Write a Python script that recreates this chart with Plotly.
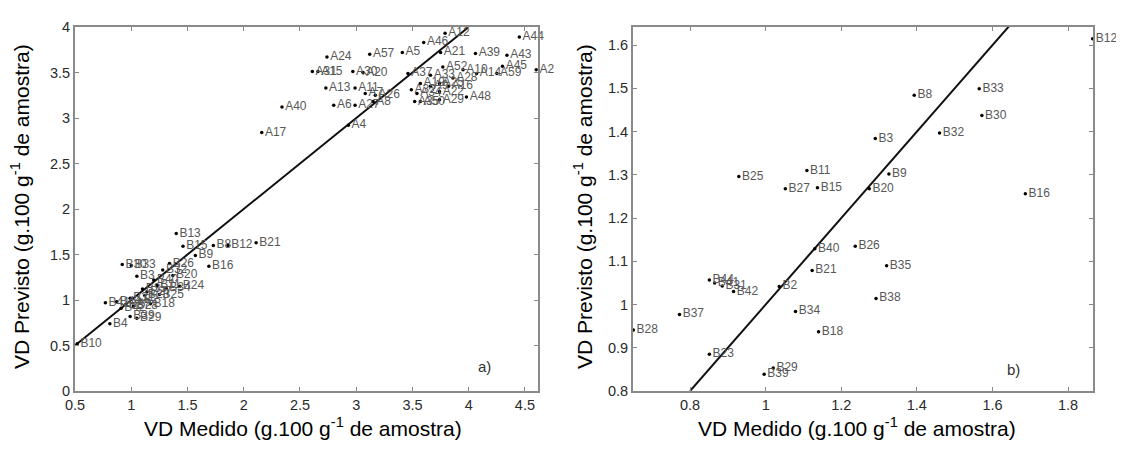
import plotly.graph_objects as go

# ---------------- data: panel a (calibration) ----------------
a_labels = ["A44", "A2", "A12", "A46", "A21", "A5", "A57", "A24", "A39", "A43",
            "A45", "A59", "A52", "A10", "A14", "A31", "A15", "A30", "A20", "A13",
            "A11", "A7", "A26", "A6", "A27", "A8", "A4", "A40", "A17", "A37",
            "A32", "A35", "A33", "A19", "A25", "A28", "A34", "A22", "A48", "A50",
            "A29", "A9", "A16"]
a_x = [4.45, 4.60, 3.79, 3.60, 3.75, 3.41, 3.12, 2.74, 4.06, 4.34,
       4.30, 4.25, 3.77, 3.95, 4.07, 2.61, 2.66, 2.97, 3.06, 2.73,
       2.99, 3.08, 3.17, 2.80, 2.99, 3.15, 2.93, 2.34, 2.16, 3.46,
       3.49, 3.52, 3.66, 3.57, 3.74, 3.86, 3.54, 3.74, 3.98, 3.57,
       3.74, 3.66, 3.82]
a_y = [3.89, 3.53, 3.93, 3.83, 3.72, 3.72, 3.70, 3.67, 3.71, 3.69,
       3.57, 3.49, 3.56, 3.53, 3.49, 3.51, 3.51, 3.51, 3.50, 3.33,
       3.33, 3.27, 3.25, 3.14, 3.14, 3.18, 2.92, 3.12, 2.84, 3.49,
       3.31, 3.18, 3.47, 3.38, 3.38, 3.44, 3.27, 3.29, 3.23, 3.18,
       3.20, 3.35, 3.35]

b_labels_a = ["B10", "B13", "B15", "B8", "B12", "B21", "B9", "B16", "B30", "B33",
              "B3", "B32", "B20", "B11", "B34", "B24", "B27", "B41", "B44", "B31",
              "B2", "B18", "B42", "B4", "B29", "B39", "B40", "B26", "B35", "B25",
              "B37", "B28", "B23"]
b_x_a = [0.52, 1.40, 1.46, 1.73, 1.86, 2.11, 1.57, 1.69, 0.92, 1.00,
         1.05, 1.28, 1.37, 1.23, 1.31, 1.43, 1.14, 0.77, 0.87, 0.99,
         1.08, 1.17, 0.91, 0.81, 1.05, 0.99, 1.20, 1.34, 1.10, 1.25,
         0.95, 1.02, 1.12]
b_y_a = [0.52, 1.73, 1.59, 1.60, 1.60, 1.63, 1.49, 1.37, 1.39, 1.38,
         1.26, 1.33, 1.27, 1.16, 1.13, 1.15, 1.09, 0.97, 0.98, 1.02,
         1.00, 0.96, 0.91, 0.74, 0.80, 0.82, 1.22, 1.40, 1.12, 1.06,
         0.95, 0.93, 1.05]

line_a = [0.5, 4.0]

# ---------------- data: panel b (validation) ----------------
b_labels = ["B12", "B33", "B8", "B30", "B32", "B3", "B11", "B25", "B9", "B27",
            "B15", "B20", "B16", "B40", "B26", "B35", "B21", "B44", "B41", "B31",
            "B42", "B2", "B38", "B37", "B34", "B28", "B18", "B23", "B29", "B39"]
b_x = [1.865, 1.565, 1.393, 1.572, 1.460, 1.290, 1.109, 0.929, 1.326, 1.052,
       1.137, 1.274, 1.687, 1.130, 1.237, 1.320, 1.123, 0.851, 0.865, 0.885,
       0.915, 1.036, 1.292, 0.772, 1.079, 0.650, 1.140, 0.851, 1.020, 0.996]
b_y = [1.615, 1.499, 1.484, 1.437, 1.397, 1.384, 1.310, 1.296, 1.302, 1.268,
       1.270, 1.268, 1.256, 1.129, 1.135, 1.090, 1.079, 1.057, 1.050, 1.043,
       1.030, 1.042, 1.014, 0.977, 0.984, 0.941, 0.937, 0.885, 0.853, 0.839]

line_b = [0.8, 1.65]

xt_a = [0.5, 1, 1.5, 2, 2.5, 3, 3.5, 4, 4.5]
xt_a_txt = ["0.5", "1", "1.5", "2", "2.5", "3", "3.5", "4", "4.5"]
yt_a = [0, 0.5, 1, 1.5, 2, 2.5, 3, 3.5, 4]
yt_a_txt = ["0", "0.5", "1", "1.5", "2", "2.5", "3", "3.5", "4"]
xt_b = [0.8, 1.0, 1.2, 1.4, 1.6, 1.8]
xt_b_txt = ["0.8", "1", "1.2", "1.4", "1.6", "1.8"]
yt_b = [0.8, 0.9, 1.0, 1.1, 1.2, 1.3, 1.4, 1.5, 1.6]
yt_b_txt = ["0.8", "0.9", "1", "1.1", "1.2", "1.3", "1.4", "1.5", "1.6"]

# page layout (page pixels; the html body adds an 8px offset)
W, H = 1124, 450
OFF = 8
L_PAGE, R_PAGE, T_PAGE, B_PAGE = 75, 1093, 27, 391
ML, MT = L_PAGE - OFF, T_PAGE - OFF
MR, MB = W - (R_PAGE - OFF), H - (B_PAGE - OFF)
PW, PH = W - ML - MR, H - MT - MB


def px(x):
    return (x - OFF - ML) / PW


def py(y):
    return (H - MB - (y - OFF)) / PH


lab_font = dict(family="Liberation Sans, Arial", size=12, color="#585858")
mk = dict(color="black", size=3.5)

fig = go.Figure()
fig.add_trace(go.Scatter(x=line_a, y=line_a, mode="lines",
                         line=dict(color="#111", width=2), xaxis="x", yaxis="y"))
fig.add_trace(go.Scatter(x=a_x, y=a_y, mode="markers+text", text=a_labels,
                         textposition="middle right", textfont=lab_font,
                         marker=mk, cliponaxis=False, xaxis="x", yaxis="y"))
fig.add_trace(go.Scatter(x=b_x_a, y=b_y_a, mode="markers+text", text=b_labels_a,
                         textposition="middle right", textfont=lab_font,
                         marker=mk, cliponaxis=False, xaxis="x", yaxis="y"))
fig.add_trace(go.Scatter(x=line_b, y=line_b, mode="lines",
                         line=dict(color="#111", width=2), xaxis="x2", yaxis="y2"))
fig.add_trace(go.Scatter(x=b_x, y=b_y, mode="markers+text", text=b_labels,
                         textposition="middle right", textfont=lab_font,
                         marker=mk, cliponaxis=False, xaxis="x2", yaxis="y2"))

ax_common = dict(showline=True, linecolor="#8a8a8a", linewidth=2, mirror="ticks",
                 ticks="inside", ticklen=4, tickcolor="#8a8a8a", tickwidth=1,
                 showgrid=False, zeroline=False, automargin=False,
                 tickfont=dict(family="Liberation Sans, Arial", size=14.5, color="#2a2a2a"))

fig.update_layout(
    width=W, height=H, showlegend=False, autosize=False,
    plot_bgcolor="white", paper_bgcolor="white",
    margin=dict(l=ML, r=MR, t=MT, b=MB, pad=0),
    xaxis=dict(domain=[0, px(538)], range=[0.5, 4.616], tickvals=xt_a,
               ticktext=xt_a_txt, anchor="y", **ax_common),
    yaxis=dict(domain=[0, 1], range=[0, 4], tickvals=yt_a, ticktext=yt_a_txt,
               anchor="x", **ax_common),
    xaxis2=dict(domain=[px(633), 1], range=[0.649, 1.866], tickvals=xt_b,
                ticktext=xt_b_txt, anchor="y2", **ax_common),
    yaxis2=dict(domain=[0, 1], range=[0.8, 1.642], tickvals=yt_b, ticktext=yt_b_txt,
                anchor="x2", **ax_common),
)

title_font = dict(family="Liberation Sans, Arial", size=21, color="black")
ytitle = "VD Previsto (g.100 g<sup>-1</sup> de amostra)"
xtitle = "VD Medido (g.100 g<sup>-1</sup> de amostra)"
ann = [
    dict(x=px(20), y=py(207), text=ytitle, textangle=-90),
    dict(x=px(583), y=py(207), text=ytitle, textangle=-90),
    dict(x=px(303), y=py(427), text=xtitle),
    dict(x=px(857), y=py(427), text=xtitle),
]
for a in ann:
    fig.add_annotation(xref="paper", yref="paper", showarrow=False,
                       xanchor="center", yanchor="middle", font=title_font, **a)
fig.add_annotation(xref="paper", yref="paper", x=px(484), y=py(377), text="a)",
                   showarrow=False, font=dict(family="Liberation Sans, Arial", size=15, color="#333"))
fig.add_annotation(xref="paper", yref="paper", x=px(1022), y=py(380), text="b)",
                   showarrow=False, font=dict(family="Liberation Sans, Arial", size=15, color="#333"))

fig.write_html("out.html")
